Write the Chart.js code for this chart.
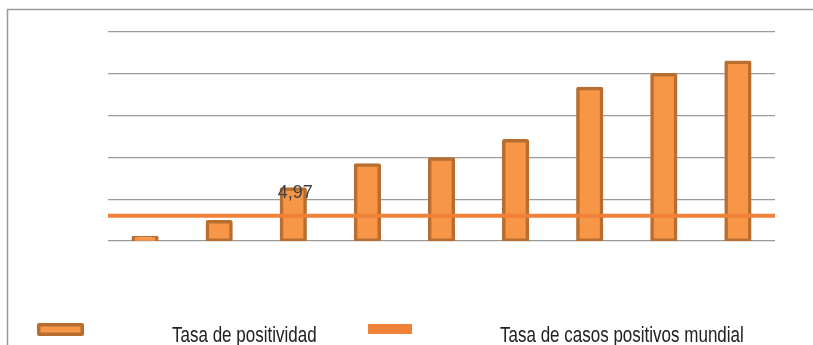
<!DOCTYPE html>
<html>
<head>
<meta charset="utf-8">
<script src="https://cdn.jsdelivr.net/npm/chart.js@4.4.0/dist/chart.umd.min.js"></script>
<style>
  html, body { margin: 0; padding: 0; background: #fff; }
  #wrap { width: 813px; height: 345px; position: relative; }
</style>
</head>
<body>
<div id="wrap"><canvas id="grafico" width="813" height="345"></canvas></div>
<script>
// datos
const categorias = ['1', '2', '3', '4', '5', '6', '7', '8', '9'];
const tasaPositividad = [0.31, 1.84, 4.97, 7.27, 7.85, 9.59, 14.6, 15.9, 17.1];
const tasaMundial = 2.42;
const yMax = 20;
const yStep = 4;
const etiquetaValor = { indice: 2, texto: '4,97' };
const nombresSeries = ['Tasa de positividad', 'Tasa de casos positivos mundial'];

const colorBarra = '#F79646';
const bordeBarra = '#B86E30';
const colorLinea = '#EF8138';
const gris = '#9a9a9a';

function textoEstirado(ctx, txt, x, y, sy) {
    ctx.save();
    ctx.translate(x, y);
    ctx.scale(1, sy);
    ctx.fillText(txt, 0, 0);
    ctx.restore();
}

const extras = {
    id: 'extras',
    afterDraw(chart) {
        const ctx = chart.ctx;
        ctx.save();
        // marco
        ctx.strokeStyle = gris;
        ctx.lineWidth = 1.5;
        ctx.beginPath();
        ctx.moveTo(7.5, 345);
        ctx.lineTo(7.5, 9.5);
        ctx.lineTo(813, 9.5);
        ctx.stroke();

        // etiqueta de dato
        const meta = chart.getDatasetMeta(0);
        const bar = meta.data[etiquetaValor.indice];
        ctx.font = '18px "Liberation Sans", Arial, sans-serif';
        ctx.fillStyle = '#404040';
        ctx.textAlign = 'center';
        ctx.textBaseline = 'alphabetic';
        ctx.fillText(etiquetaValor.texto, bar.x + 2, bar.y + 9);

        // leyenda
        ctx.fillStyle = bordeBarra;
        ctx.beginPath();
        ctx.roundRect(37, 323, 47, 13, 2);
        ctx.fill();
        ctx.fillStyle = colorBarra;
        ctx.fillRect(40.5, 326.5, 40, 6);
        ctx.fillStyle = colorLinea;
        ctx.fillRect(368, 324, 44, 10);

        ctx.font = '17px "Liberation Sans", Arial, sans-serif';
        ctx.fillStyle = '#222';
        ctx.textAlign = 'left';
        textoEstirado(ctx, nombresSeries[0], 172, 341.5, 1.35);
        textoEstirado(ctx, nombresSeries[1], 500, 341.5, 1.35);
        ctx.restore();
    }
};

new Chart(document.getElementById('grafico'), {
    data: {
        labels: categorias,
        datasets: [{
            type: 'bar',
            label: nombresSeries[0],
            data: tasaPositividad,
            backgroundColor: colorBarra,
            borderColor: bordeBarra,
            borderWidth: 3.5,
            borderRadius: 2,
            borderSkipped: false,
            inflateAmount: 1.75,
            grouped: false,
            categoryPercentage: 1,
            barPercentage: 0.32,
            order: 2
        }, {
            type: 'line',
            label: nombresSeries[1],
            data: [{ x: 0, y: tasaMundial }, { x: 1, y: tasaMundial }],
            xAxisID: 'x2',
            borderColor: colorLinea,
            borderWidth: 4,
            pointRadius: 0,
            order: 1
        }]
    },
    options: {
        responsive: false,
        animation: false,
        devicePixelRatio: 1,
        layout: { padding: { left: 108, right: 38, top: 32, bottom: 104 } },
        plugins: {
            legend: { display: false },
            tooltip: { enabled: false }
        },
        scales: {
            x: { display: false },
            x2: { type: 'linear', display: false, min: 0, max: 1 },
            y: {
                min: 0,
                max: yMax,
                ticks: { display: false, stepSize: yStep },
                border: { display: false },
                grid: { color: gris, lineWidth: 1.3, drawTicks: false }
            }
        }
    },
    plugins: [extras]
});
</script>
</body>
</html>
